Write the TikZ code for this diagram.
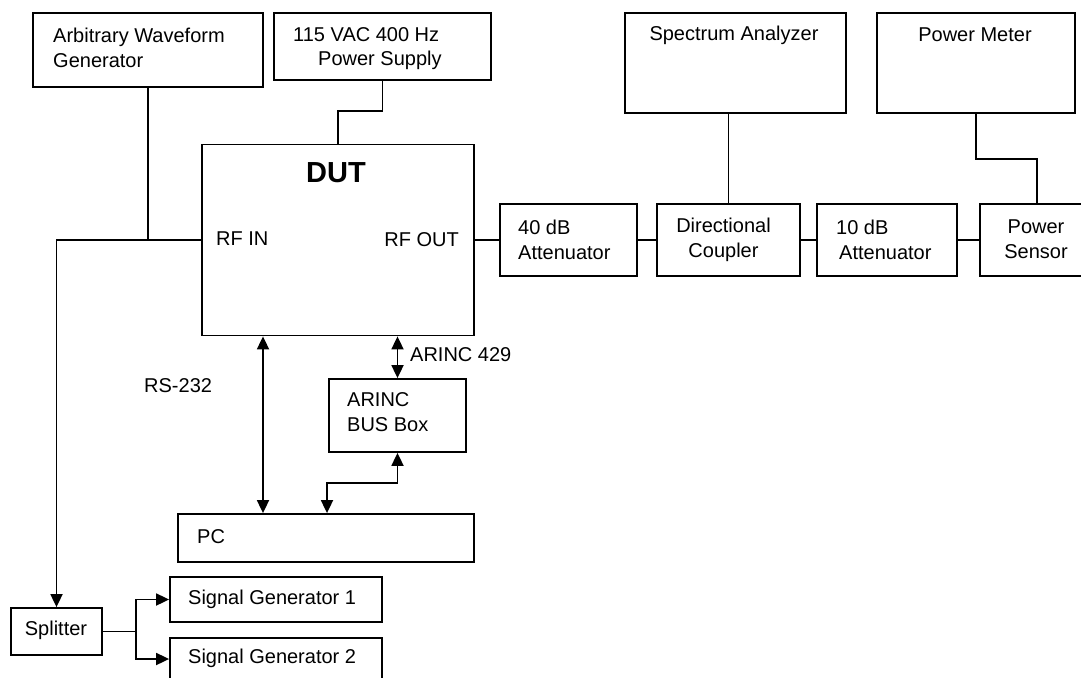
\documentclass[tikz,border=0pt]{standalone}
\usepackage{fontspec}
\setmainfont{Liberation Sans}
\usetikzlibrary{arrows.meta}

\begin{document}
\begin{tikzpicture}[x=1pt,y=-1pt,
  every node/.style={font=\fontsize{20pt}{25pt}\selectfont},
  box/.style={draw, rectangle, inner sep=0pt, line width=1.8pt},
  wire/.style={draw, line width=1.8pt},
  lbl/.style={inner sep=0pt, align=left},
  lblc/.style={inner sep=0pt, align=center},
  arr/.style={wire, -{Triangle[length=13pt,width=12pt]}},
  dbl/.style={wire, {Triangle[length=13pt,width=12pt]}-{Triangle[length=13pt,width=12pt]}}
]
\clip (0,0) rectangle (1081,677);
\fill[white] (0,0) rectangle (1081,677);

% ---- boxes ----
\node[box, minimum width=230pt, minimum height=74pt] (awg) at (148,50) {};
\node[box, minimum width=217pt, minimum height=67pt] (ps) at (382.5,46.5) {};
\node[box, minimum width=272pt, minimum height=191pt] (dut) at (338,240) {};
\node[box, minimum width=137pt, minimum height=72pt] (att40) at (568.5,240) {};
\node[box, minimum width=143pt, minimum height=72pt] (coup) at (728.5,240) {};
\node[box, minimum width=140pt, minimum height=72pt] (att10) at (887,240) {};
\node[box, minimum width=130pt, minimum height=72pt] (sens) at (1045,240) {};
\node[box, minimum width=221pt, minimum height=100pt] (spec) at (735.5,63) {};
\node[box, minimum width=198pt, minimum height=100pt] (pm) at (976,63) {};
\node[box, minimum width=137pt, minimum height=73pt] (arinc) at (397.5,415.5) {};
\node[box, minimum width=296pt, minimum height=48pt] (pc) at (326,538) {};
\node[box, minimum width=91pt, minimum height=47pt] (split) at (56.5,631.5) {};
\node[box, minimum width=212pt, minimum height=45pt] (sg1) at (276,599.5) {};
\node[box, minimum width=212pt, minimum height=42pt] (sg2) at (276,659) {};

% ---- texts ----
\node[lbl, anchor=west] (awgt) at (53,47.5) {Arbitrary Waveform\\Generator};
\node[lbl, anchor=west] (pst1) at (293,35) {115 VAC 400 Hz};
\node[lbl, anchor=west] (pst2) at (318,60) {Power Supply};
\node[lblc, font=\fontsize{29pt}{32pt}\selectfont\bfseries] (dutt) at (336,173) {DUT};
\node[lbl, anchor=west] (rfin) at (216,239) {RF IN};
\node[lbl, anchor=east] (rfout) at (459,240) {RF OUT};
\node[lbl, anchor=west] (att40t) at (518,239.5) {40 dB\\Attenuator};
\node[lblc] (coupt) at (723.5,239.5) {Directional\\Coupler};
\node[lbl, anchor=west] (att10t) at (836,239.5) {10 dB\\\hspace{3pt}Attenuator};
\node[lblc] (senst) at (1036,239.5) {Power\\Sensor};
\node[lblc] (spect) at (734,35) {Spectrum Analyzer};
\node[lblc] (pmt) at (975,35) {Power Meter};
\node[lbl, anchor=west] (a429) at (410,355) {ARINC 429};
\node[lbl, anchor=west] (rs232) at (144,386) {RS-232};
\node[lbl, anchor=west] (arinct) at (347,412.5) {ARINC\\BUS Box};
\node[lbl, anchor=west] (pct) at (197,537) {PC};
\node[lblc] (splitt) at (56,630) {Splitter};
\node[lbl, anchor=west] (sg1t) at (188,599) {Signal Generator 1};
\node[lbl, anchor=west] (sg2t) at (188,658) {Signal Generator 2};

% ---- helper coordinates ----
\coordinate (psbend) at (0,111);
\coordinate (pmbend) at (0,159);
\coordinate (rsx) at (263,0);
\coordinate (pcx) at (327,0);
\coordinate (splitx) at (136,0);

% ---- connectors ----
\path[wire] (awg.south) -- (awg.south |- dut.west);
\path[arr] (dut.west) -| (split.north);
\path[wire] (ps.south) -- (ps.south |- psbend) -| (dut.north);
\path[wire] (dut.east) -- (att40.west);
\path[wire] (att40.east) -- (coup.west);
\path[wire] (coup.east) -- (att10.west);
\path[wire] (att10.east) -- (sens.west);
\path[wire] (coup.north) -- (coup.north |- spec.south);
\path[wire] (pm.south) -- (pm.south |- pmbend) -| (sens.north -| 1037,0);
\path[dbl] (rsx |- dut.south) -- (rsx |- pc.north);
\path[dbl] (arinc.north |- dut.south) -- (arinc.north);
\path[dbl] (arinc.south) -- ++(0,30) -| (pcx |- pc.north);
\path[arr] (split.east) -- (splitx |- split.east) |- (sg1.west);
\path[arr] (splitx |- split.east) |- (sg2.west);
\end{tikzpicture}
\end{document}
